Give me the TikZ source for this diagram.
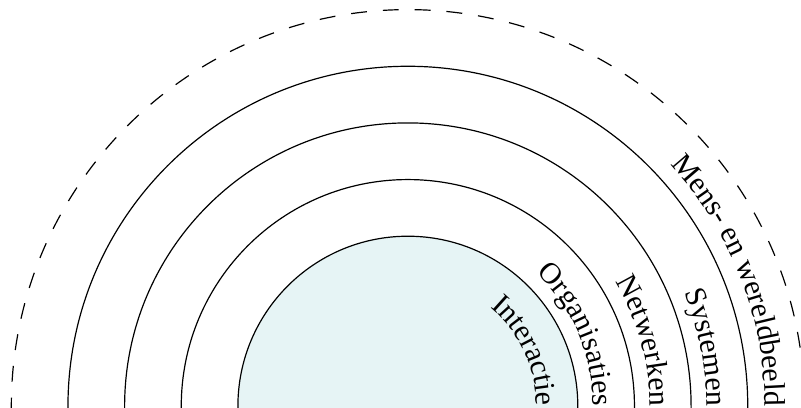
\documentclass[tikz,border=0pt]{standalone}
\usepackage{fontspec}
\setmainfont{Liberation Serif}
\usepackage{tikz}
\usetikzlibrary{decorations.text}

\begin{document}
\begin{tikzpicture}
% --- HALVE CIRKELS MET TEKST LANGS DE BOOG ---
\definecolor{kern}{HTML}{E6F4F5}
\tikzset{
  boog/.style={line width=0.6pt},
  laag/.style={decorate, decoration={text along path, text align=right,
    text={|\fontsize{15pt}{18pt}\selectfont|#1}}}
}
\useasboundingbox (-7.2,-0.03) rectangle (6.94,7.17);
\coordinate (centrum) at (0,0);

% LAAG 1: kern (gevuld)
\fill[kern] (centrum) ++(3,-0.1) -- ++(0,0.1) arc (0:180:3) -- ++(0,-0.1) -- cycle;
\draw[boog] (centrum) ++(3,-0.1) -- ++(0,0.1) arc (0:180:3) -- ++(0,-0.1);

% LAAG 2: ringen
\foreach \r in {4,5,6}
  \draw[boog] (centrum) ++(\r,-0.1) -- ++(0,0.1) arc (0:180:\r) -- ++(0,-0.1);
\draw[boog, dash pattern=on 8pt off 8pt, dash phase=2.5pt] (centrum) ++(7,0) arc (0:180:7) -- ++(0,-0.1);

% LAAG 3: labels langs de boog
\path[laag=Interactie] (centrum) ++(90:2.27) arc (90:0:2.27);
\path[laag=Organisaties] (centrum) ++(90:3.27) arc (90:0:3.27);
\path[laag=Netwerken] (centrum) ++(90:4.27) arc (90:0:4.27);
\path[laag=Systemen] (centrum) ++(90:5.27) arc (90:0:5.27);
\path[laag=Mens- en wereldbeeld] (centrum) ++(90:6.3) arc (90:0:6.3);
\end{tikzpicture}
\end{document}
